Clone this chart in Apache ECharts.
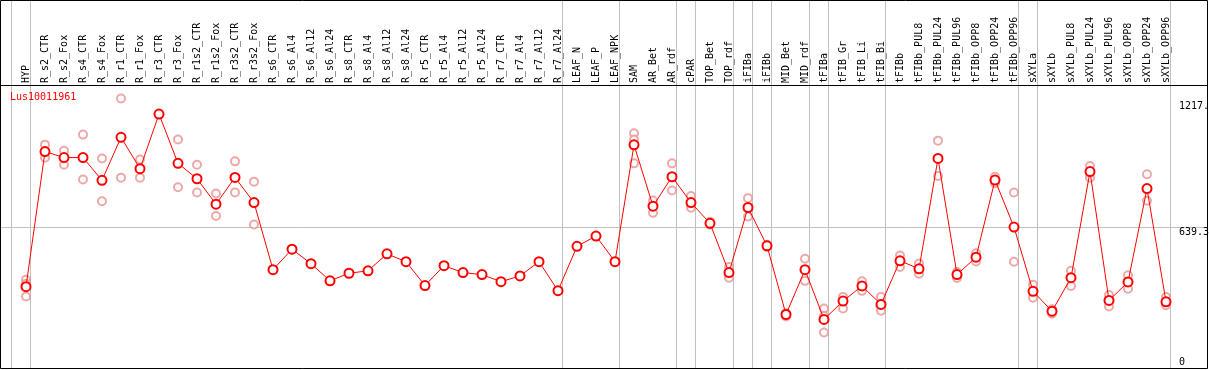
<!DOCTYPE html>
<html><head><meta charset="utf-8">
<script src="https://cdn.jsdelivr.net/npm/echarts@6/dist/echarts.min.js"></script>
<style>html,body{margin:0;padding:0;background:#fff}#c{width:1209px;height:370px}</style>
</head><body><div id="c"></div>
<script>
const geneName = 'Lus10011961';
const categories = ['HYP','R_s2_CTR','R_s2_Fox','R_s4_CTR','R_s4_Fox','R_r1_CTR','R_r1_Fox','R_r3_CTR','R_r3_Fox','R_r1s2_CTR','R_r1s2_Fox','R_r3s2_CTR','R_r3s2_Fox','R_s6_CTR','R_s6_Al4','R_s6_Al12','R_s6_Al24','R_s8_CTR','R_s8_Al4','R_s8_Al12','R_s8_Al24','R_r5_CTR','R_r5_Al4','R_r5_Al12','R_r5_Al24','R_r7_CTR','R_r7_Al4','R_r7_Al12','R_r7_Al24','LEAF_N','LEAF_P','LEAF_NPK','SAM','AR_Bet','AR_rdf','cPAR','TOP_Bet','TOP_rdf','iFIBa','iFIBb','MID_Bet','MID_rdf','tFIBa','tFIB_Gr','tFIB_Li','tFIB_Bi','tFIBb','tFIBb_PUL8','tFIBb_PUL24','tFIBb_PUL96','tFIBb_OPP8','tFIBb_OPP24','tFIBb_OPP96','sXYLa','sXYLb','sXYLb_PUL8','sXYLb_PUL24','sXYLb_PUL96','sXYLb_OPP8','sXYLb_OPP24','sXYLb_OPP96'];
const means = [374,980,953,953,851,1044,903,1148,927,858,744,864,751,450,542,477,400,434,445,521,486,379,468,437,428,396,422,486,356,555,601,486,1010,735,867,751,658,437,729,557,249,450,227,309,377,294,490,454,949,428,506,852,641,353,264,414,890,312,395,814,306];
const replicates = [[405,387,330],[1011,952],[984,921],[1056,855],[949,757],[1217.7,863],[944,863],[],[1034,820],[921,796],[792,691],[936,796],[845,653],[],[],[],[],[],[],[],[],[],[],[],[],[],[],[],[],[],[],[],[1062,1034,927],[760,705],[927,805],[781,728],[665,652],[462,414],[771,689],[562,552],[255,240],[499,400],[276,242,168],[328,276],[398,355],[328,266],[514,462],[478,432],[1029,870],[440,413],[524,487],[867,838],[796,486],[383,324],[272,253],[445,377],[915,863],[336,285],[425,365],[878,759],[327,291]];
const groupEnds = [-1,0,28,31,34,35,37,38,39,41,42,45,52,53,60];
const refLineValue = 639.3;
const yTickValues = [1217.7, 639.3, 0];
const yTickLabels = ['1217.', '639.3', '0'];

const FONT = 'DejaVu Sans Mono';
const chart = echarts.init(document.getElementById('c'), null, {renderer:'canvas'});
const repData = [];
replicates.forEach((arr,i)=>arr.forEach(v=>repData.push([i,v])));

chart.setOption({
  animation:false,
  grid:[
    {left:1, right:1, top:85, height:287},
    {left:16.5, width:1159, top:85, height:10}
  ],
  xAxis:[
    {type:'value', gridIndex:0, min:-1.3158, max:62.2105, show:false},
    {type:'category', gridIndex:1, position:'top', data:categories, boundaryGap:true,
     axisLine:{show:false}, axisTick:{show:false}, splitLine:{show:false},
     axisLabel:{rotate:90, interval:0, margin:2, fontSize:10, fontFamily:FONT, color:'#000'}}
  ],
  yAxis:[
    {type:'value', gridIndex:0, min:0, max:1278.6, show:false},
    {type:'value', gridIndex:1, show:false}
  ],
  series:[
    {type:'scatter', xAxisIndex:0, yAxisIndex:0, data:repData, symbol:'emptyCircle', symbolSize:8,
     itemStyle:{color:'#e89494', borderColor:'#e89494', borderWidth:1.2}, z:3, silent:true},
    {type:'line', xAxisIndex:0, yAxisIndex:0, data:means.map((v,i)=>[i,v]), symbol:'emptyCircle', symbolSize:9,
     itemStyle:{color:'#ff0000', borderColor:'#ff0000', borderWidth:1.3}, lineStyle:{color:'#ff0000', width:1}, z:5,
     markLine:{silent:true, symbol:'none', label:{show:false}, lineStyle:{color:'#c0c0c0', width:1, type:'solid'}, data:[{yAxis:refLineValue}], z:1}},
    {type:'line', xAxisIndex:1, yAxisIndex:1, data:[]}
  ]
});

const g = [];
groupEnds.forEach(e=>{
  const x = Math.round(chart.convertToPixel({xAxisIndex:0}, e + 0.21)) + 0.5;
  g.push({type:'line', shape:{x1:x,y1:0,x2:x,y2:368}, style:{stroke:'#c0c0c0', lineWidth:1}, z:0, silent:true});
});
g.push({type:'rect', shape:{x:0.5,y:0.5,width:1207,height:368}, style:{fill:null, stroke:'#000', lineWidth:1}, z:10, silent:true});
g.push({type:'line', shape:{x1:0,y1:85.5,x2:1208,y2:85.5}, style:{stroke:'#000', lineWidth:1}, z:10, silent:true});
yTickValues.forEach((v,i)=>{
  let y = chart.convertToPixel({yAxisIndex:0}, v) + (i === 0 ? 8 : 5);
  y = Math.min(y, 362);
  g.push({type:'text', x:1179, y:y, style:{text:yTickLabels[i], font:'10px "'+FONT+'"', fill:'#000', textAlign:'left', textVerticalAlign:'middle'}, z:10, silent:true});
});
g.push({type:'text', x:10, y:97, style:{text:geneName, font:'10px "'+FONT+'"', fill:'#ff0000', textAlign:'left', textVerticalAlign:'middle'}, z:10, silent:true});
chart.setOption({graphic:{elements:g}});
</script>
</body></html>
